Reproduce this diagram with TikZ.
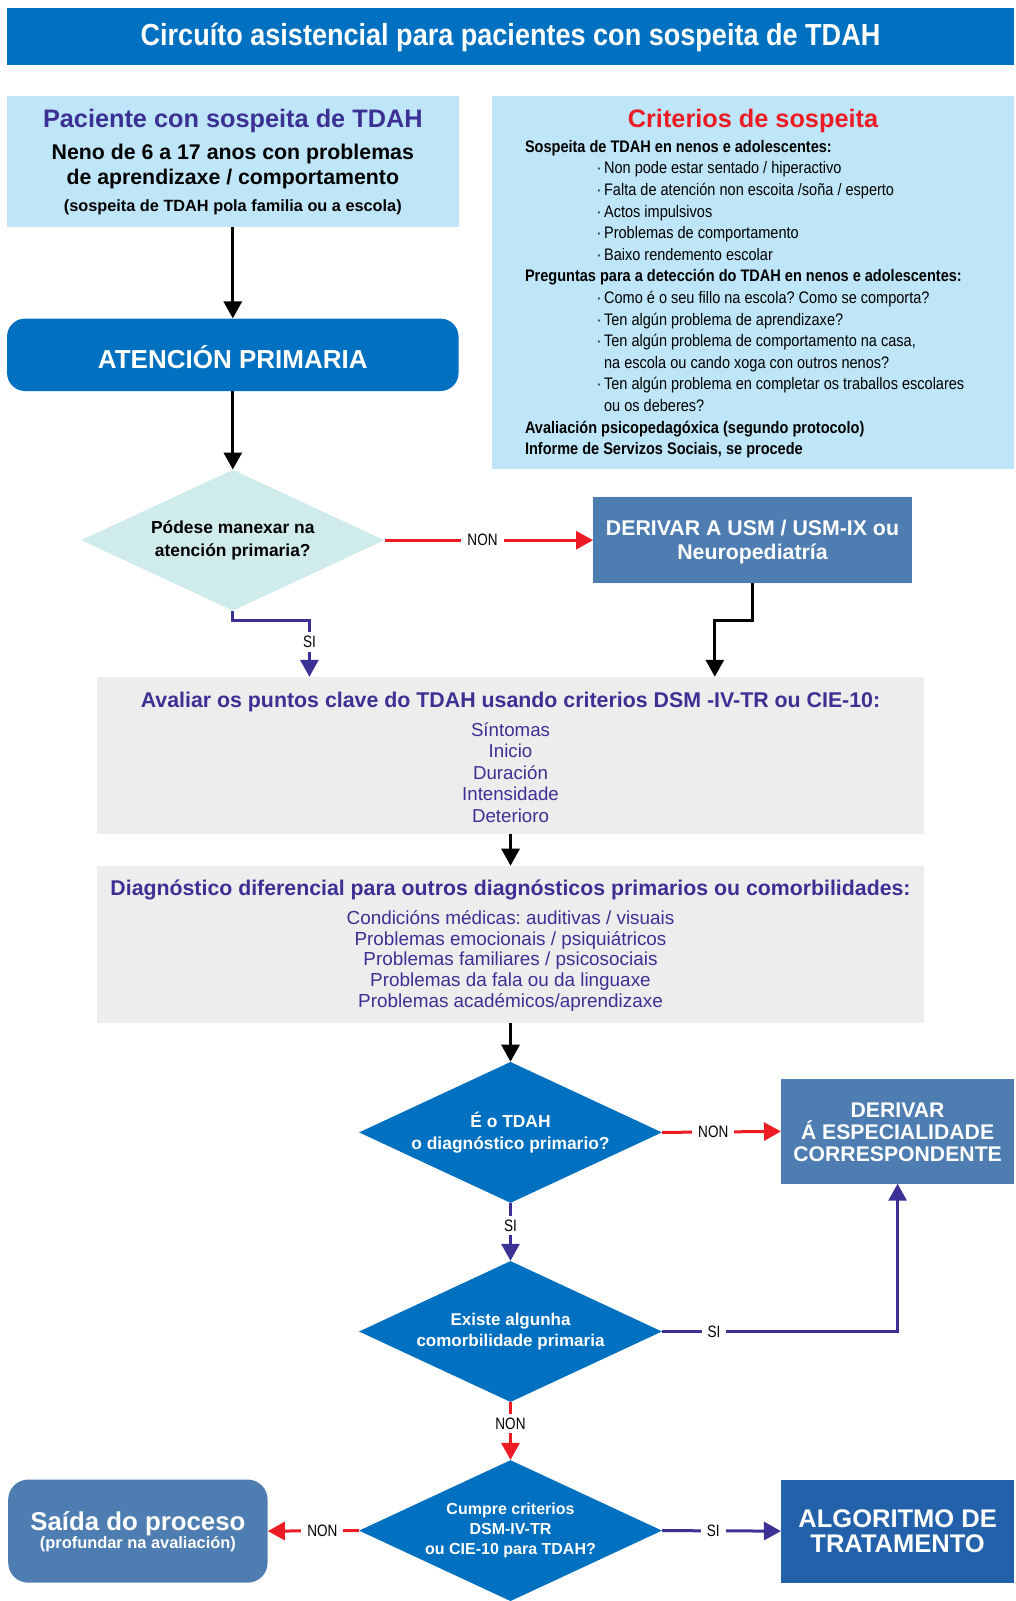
\documentclass[tikz,border=0pt]{standalone}
\usepackage{fontspec}
\setmainfont{Liberation Sans}
\newfontfamily\cnd[FakeStretch=0.87]{Liberation Sans}
\newfontfamily\cndt[FakeStretch=0.887]{Liberation Sans}
\newfontfamily\cndl[FakeStretch=0.82]{Liberation Sans}
\usetikzlibrary{shapes.geometric,arrows.meta}
\definecolor{tblue}{RGB}{0,112,192}
\definecolor{lblue}{RGB}{190,230,248}
\definecolor{steel}{RGB}{78,125,177}
\definecolor{algb}{RGB}{35,97,171}
\definecolor{dteal}{RGB}{208,235,235}
\definecolor{greyb}{RGB}{237,237,237}
\definecolor{purp}{RGB}{60,48,148}
\definecolor{redc}{RGB}{237,28,36}
\newcommand\fsz[2]{\fontsize{#1}{#2}\selectfont}
\newcommand\bl{\hspace*{71.5pt}·\,}
\newcommand\ct{\hspace*{71.5pt}\phantom{·\,}}
\frenchspacing
\tikzset{
  panel/.style={rectangle, inner sep=0pt},
  dia/.style={diamond, aspect=2.14, minimum width=303pt, minimum height=141pt, inner sep=0pt, align=center},
  blk/.style={line width=3pt, draw=black, -{Triangle[width=18pt,length=17pt]}},
  redarr/.style={line width=3pt, draw=redc, -{Triangle[width=18pt,length=17pt,fill=redc]}},
  purarr/.style={line width=3pt, draw=purp, -{Triangle[width=18pt,length=17pt,fill=purp]}},
  lbl/.style={fill=white, inner xsep=6pt, inner ysep=4pt, text=black, font=\cndl\fsz{16.5}{16.5}},
}
\begin{document}
\begin{tikzpicture}[x=1pt,y=-1pt]
\useasboundingbox (0,0) rectangle (1015,1601);
% title
\node[panel, fill=tblue, minimum width=1007pt, minimum height=57pt] (title) at (510.5,36.8) {};
\node[text=white, font=\cndt\bfseries\fsz{30.5}{30.5}] (titlet) at (510.5,37.8) {Circuíto asistencial para pacientes con sospeita de TDAH};
% left top box
\node[panel, fill=lblue, minimum width=451.5pt, minimum height=130.7pt] (pac) at (232.8,161.3) {};
\node[text=purp, font=\bfseries\fsz{25.3}{25.3}] (pact) at (232.8,121.4) {Paciente con sospeita de TDAH};
\node[align=center, font=\bfseries\fsz{21.3}{24.5}] (paca) at (232.8,166.3) {Neno de 6 a 17 anos con problemas\\de aprendizaxe / comportamento};
\node[font=\bfseries\fsz{16.3}{16.3}] (pacb) at (232.8,207.2) {(sospeita de TDAH pola familia ou a escola)};
% right top box
\node[panel, fill=lblue, minimum width=522pt, minimum height=372.7pt] (crit) at (753,282.3) {};
\node[text=redc, font=\bfseries\fsz{25.3}{25.3}] (critt) at (753,121.4) {Criterios de sospeita};
\node[anchor=north west, inner sep=0pt, align=left, font=\cnd\fsz{16.7}{21.6}] (critl) at (524.8,140) {%
{\bfseries Sospeita de TDAH en nenos e adolescentes:}\\
\bl Non pode estar sentado / hiperactivo\\
\bl Falta de atención non escoita /soña / esperto\\
\bl Actos impulsivos\\
\bl Problemas de comportamento\\
\bl Baixo rendemento escolar\\
{\bfseries Preguntas para a detección do TDAH en nenos e adolescentes:}\\
\bl Como é o seu fillo na escola? Como se comporta?\\
\bl Ten algún problema de aprendizaxe?\\
\bl Ten algún problema de comportamento na casa,\\
\ct na escola ou cando xoga con outros nenos?\\
\bl Ten algún problema en completar os traballos escolares\\
\ct ou os deberes?\\
{\bfseries Avaliación psicopedagóxica (segundo protocolo)}\\
{\bfseries Informe de Servizos Sociais, se procede}};
% atencion primaria
\node[panel, fill=tblue, rounded corners=18pt, minimum width=451.5pt, minimum height=72.4pt] (ap) at (232.8,354.8) {};
\node[text=white, font=\bfseries\fsz{26}{26}] (apt) at (232.8,357) {ATENCIÓN PRIMARIA};
% diamond 1
\node[dia, fill=dteal, font=\bfseries\fsz{17.4}{22.5}] (d1) at (232.8,540.2) {Pódese manexar na\\atención primaria?};
\node[panel, fill=steel, minimum width=318.5pt, minimum height=85.8pt] (der1) at (752.5,540.2) {};
\node[text=white, align=center, font=\bfseries\fsz{21.3}{23.5}] (der1t) at (752.5,542.2) {DERIVAR A USM / USM-IX ou\\Neuropediatría};
% avaliar
\node[panel, fill=greyb, minimum width=827pt, minimum height=157.2pt] (av) at (510.5,755.6) {};
\node[text=purp, font=\bfseries\fsz{21.35}{21.35}] (avt) at (510.5,701.5) {Avaliar os puntos clave do TDAH usando criterios DSM -IV-TR ou CIE-10:};
\node[text=purp, align=center, font=\fsz{18.7}{21.4}] (avi) at (510.5,772.5) {Síntomas\\Inicio\\Duración\\Intensidade\\Deterioro};
% diagnostico diferencial
\node[panel, fill=greyb, minimum width=827pt, minimum height=157.2pt] (dg) at (510.5,944.5) {};
\node[text=purp, font=\bfseries\fsz{21.3}{21.3}] (dgt) at (510.5,890.3) {Diagnóstico diferencial para outros diagnósticos primarios ou comorbilidades:};
\node[text=purp, align=center, font=\fsz{18.9}{20.9}] (dgi) at (510.5,960.9) {Condicións médicas: auditivas / visuais\\Problemas emocionais / psiquiátricos\\Problemas familiares / psicosociais\\Problemas da fala ou da linguaxe\\Problemas académicos/aprendizaxe};
% diamonds 2-4
\node[dia, fill=tblue, text=white, font=\bfseries\fsz{17.4}{22.5}] (d2) at (510.5,1132.4) {É o TDAH\\o diagnóstico primario?};
\node[panel, fill=steel, minimum width=232.9pt, minimum height=104.2pt] (der2) at (897.6,1131.4) {};
\node[text=white, align=center, font=\bfseries\fsz{21.2}{22}] (der2t) at (897.6,1132.6) {DERIVAR\\Á ESPECIALIDADE\\CORRESPONDENTE};
\node[dia, fill=tblue, text=white, font=\bfseries\fsz{17}{21.5}] (d3) at (510.5,1331.5) {Existe algunha\\comorbilidade primaria};
\node[dia, fill=tblue, text=white, font=\bfseries\fsz{16}{19.9}] (d4) at (510.5,1530.6) {Cumpre criterios\\DSM-IV-TR\\ou CIE-10 para TDAH?};
% outputs
\node[panel, fill=steel, rounded corners=20pt, minimum width=259.4pt, minimum height=103.1pt] (saida) at (137.9,1531.1) {};
\node[text=white, font=\bfseries\fsz{25.8}{25.8}] (saidat) at (137.9,1523.4) {Saída do proceso};
\node[text=white, font=\bfseries\fsz{16.4}{16.4}] (saidab) at (137.9,1544.5) {(profundar na avaliación)};
\node[panel, fill=algb, minimum width=232.9pt, minimum height=103.1pt] (alg) at (897.6,1531.1) {};
\node[text=white, align=center, font=\bfseries\fsz{25.5}{25.5}] (algt) at (897.6,1531.1) {ALGORITMO DE\\TRATAMENTO};
% connectors
\coordinate (j1) at (309.4,620.8);
\coordinate (j2) at (714.8,620.8);
\draw[blk] (pac.south) -- (ap.north);
\draw[blk] (ap.south) -- (d1.north);
\draw[redarr] (d1.east) -- node[lbl,pos=0.47]{NON} (der1.west);
\draw[purarr] (d1.south) |- (j1) -- node[lbl,pos=0.38]{SI} (j1 |- av.north);
\draw[blk] (der1.south) |- (j2) -- (j2 |- av.north);
\draw[blk] (av.south) -- (dg.north);
\draw[blk] (dg.south) -- (d2.north);
\draw[redarr] (d2.east) -- node[lbl,pos=0.43]{NON} (der2.west);
\draw[purarr] (d2.south) -- node[lbl,pos=0.39]{SI} (d3.north);
\draw[purarr] (d3.east) -| node[lbl,pos=0.11]{SI} (der2.south);
\draw[redarr] (d3.south) -- node[lbl,pos=0.37]{NON} (d4.north);
\draw[redarr] (d4.west) -- node[lbl,pos=0.40]{NON} (saida.east);
\draw[purarr] (d4.east) -- node[lbl,pos=0.43]{SI} (alg.west);
\end{tikzpicture}
\end{document}
